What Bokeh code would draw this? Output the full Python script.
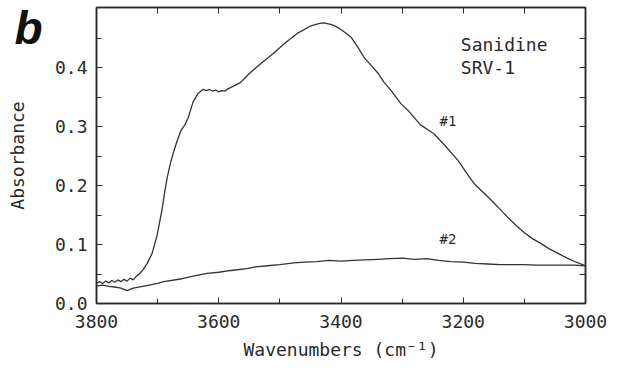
from bokeh.plotting import figure
from bokeh.models import (Range1d, LinearAxis, FixedTicker, Label,
                          PrintfTickFormatter, ColumnDataSource)
from bokeh.embed import file_html
from bokeh.resources import INLINE

# ---- data ----
wn1 = [3800, 3795, 3790, 3785, 3780, 3775, 3770, 3765, 3760, 3755, 3750,
       3745, 3740, 3735, 3730, 3724, 3717, 3709, 3701, 3693, 3688, 3684,
       3679, 3673, 3668, 3662, 3656, 3650, 3642, 3634, 3626, 3620, 3615,
       3610, 3605, 3600, 3595, 3590, 3585, 3575, 3564, 3550, 3530, 3510,
       3490, 3470, 3449, 3435, 3428, 3415, 3405, 3395, 3383, 3372, 3362,
       3350, 3339, 3330, 3318, 3302, 3290, 3270, 3248, 3230, 3208, 3195,
       3182, 3168, 3154, 3140, 3127, 3113, 3100, 3087, 3073, 3060, 3045,
       3030, 3015, 3000]
abs1 = [0.034, 0.037, 0.034, 0.038, 0.035, 0.039, 0.036, 0.040, 0.037, 0.041,
        0.038, 0.043, 0.040, 0.046, 0.050, 0.057, 0.068, 0.085, 0.115, 0.158,
        0.192, 0.215, 0.238, 0.260, 0.276, 0.293, 0.302, 0.315, 0.342, 0.356,
        0.363, 0.361, 0.363, 0.360, 0.362, 0.359, 0.361, 0.360, 0.364, 0.369,
        0.375, 0.390, 0.408, 0.425, 0.443, 0.459, 0.471, 0.475, 0.476, 0.473,
        0.468, 0.461, 0.451, 0.434, 0.417, 0.403, 0.390, 0.376, 0.361, 0.339,
        0.327, 0.303, 0.288, 0.268, 0.242, 0.222, 0.203, 0.189, 0.175, 0.160,
        0.146, 0.132, 0.120, 0.110, 0.102, 0.093, 0.085, 0.077, 0.070, 0.064]

wn2 = [3800, 3790, 3780, 3770, 3760, 3755, 3750, 3745, 3740, 3720, 3700,
       3690, 3660, 3640, 3619, 3600, 3580, 3554, 3540, 3520, 3500, 3477,
       3460, 3440, 3420, 3400, 3380, 3360, 3340, 3320, 3300, 3280, 3260,
       3240, 3220, 3200, 3180, 3160, 3140, 3120, 3100, 3080, 3060, 3040,
       3020, 3000]
abs2 = [0.030, 0.031, 0.029, 0.028, 0.026, 0.024, 0.022, 0.024, 0.026, 0.030,
        0.034, 0.037, 0.042, 0.047, 0.051, 0.053, 0.056, 0.059, 0.062, 0.064,
        0.066, 0.069, 0.070, 0.071, 0.073, 0.072, 0.073, 0.074, 0.075, 0.076,
        0.077, 0.075, 0.076, 0.073, 0.071, 0.070, 0.068, 0.067, 0.066, 0.066,
        0.066, 0.065, 0.065, 0.065, 0.065, 0.064]

x_ticks = [3800, 3600, 3400, 3200, 3000]
x_minor = [3700, 3500, 3300, 3100]
y_ticks = [0.0, 0.1, 0.2, 0.3, 0.4]
y_minor = [0.05, 0.15, 0.25, 0.35, 0.45]

title_text = "Sanidine"
sample_text = "SRV-1"
panel_text = "b"
x_label = "Wavenumbers (cm\u207b\u00b9)"
y_label = "Absorbance"

FONT = "DejaVu Sans Mono"
FS = "18px"
INK = "#2a2a2a"

p = figure(width=625, height=372, output_backend="svg", toolbar_location=None,
           x_range=Range1d(3800, 3000), y_range=Range1d(0, 0.502),
           min_border_left=96, min_border_right=40, min_border_top=7,
           min_border_bottom=69)
p.grid.visible = False
p.outline_line_color = INK
p.outline_line_width = 1.5
p.background_fill_color = "white"
p.border_fill_color = "white"

for ax in p.xaxis:
    ax.ticker = FixedTicker(ticks=x_ticks, minor_ticks=x_minor)
    ax.axis_label = x_label
    ax.major_label_standoff = 11
    ax.axis_label_standoff = 8
for ax in p.yaxis:
    ax.ticker = FixedTicker(ticks=y_ticks, minor_ticks=y_minor)
    ax.formatter = PrintfTickFormatter(format="%.1f")
    ax.axis_label = y_label
    ax.major_label_standoff = 9
    ax.axis_label_standoff = 24

def style(ax):
    ax.major_tick_in = 6
    ax.major_tick_out = 0
    ax.minor_tick_in = 5
    ax.minor_tick_out = 0
    ax.axis_line_color = INK
    ax.axis_line_width = 1.5
    ax.major_tick_line_color = INK
    ax.minor_tick_line_color = INK
    ax.major_label_text_font = FONT
    ax.major_label_text_font_size = FS
    ax.major_label_text_color = INK
    ax.axis_label_text_font = FONT
    ax.axis_label_text_font_size = FS
    ax.axis_label_text_font_style = "normal"
    ax.axis_label_text_color = INK

for ax in list(p.xaxis) + list(p.yaxis):
    style(ax)

# mirrored tick marks (no labels) on top and right
top = LinearAxis(ticker=FixedTicker(ticks=[], minor_ticks=x_ticks + x_minor))
right = LinearAxis(ticker=FixedTicker(ticks=[], minor_ticks=y_ticks + y_minor))
for ax in (top, right):
    style(ax)
    ax.minor_tick_in = 6
    ax.major_label_standoff = 0
p.add_layout(top, "above")
p.add_layout(right, "right")

# panel letter "b": an outer, line-less left axis carrying one label
b_pos = 0.472
baxis = LinearAxis(ticker=FixedTicker(ticks=[b_pos], minor_ticks=[]),
                   major_label_overrides={b_pos: panel_text})
baxis.axis_line_color = None
baxis.major_tick_line_color = None
baxis.minor_tick_line_color = None
baxis.major_tick_in = 0
baxis.major_tick_out = 0
baxis.major_label_standoff = -39
baxis.major_label_text_font = "Liberation Sans"
baxis.major_label_text_font_style = "bold italic"
baxis.major_label_text_font_size = "46px"
baxis.major_label_text_color = "#111111"
p.add_layout(baxis, "left")

s1 = ColumnDataSource(dict(x=wn1, y=abs1))
s2 = ColumnDataSource(dict(x=wn2, y=abs2))
p.line("x", "y", source=s1, line_color="#333333", line_width=1.3)
p.line("x", "y", source=s2, line_color="#333333", line_width=1.3)

p.add_layout(Label(x=3204, y=0.44, text=title_text, text_font=FONT,
                   text_font_size=FS, text_color=INK, text_baseline="middle"))
p.add_layout(Label(x=3204, y=0.40, text=sample_text, text_font=FONT,
                   text_font_size=FS, text_color=INK, text_baseline="middle"))
p.add_layout(Label(x=3225, y=0.31, text="#1", text_font=FONT,
                   text_font_size="14px", text_color=INK,
                   text_baseline="middle", text_align="center"))
p.add_layout(Label(x=3225, y=0.11, text="#2", text_font=FONT,
                   text_font_size="14px", text_color=INK,
                   text_baseline="middle", text_align="center"))

open("out.html", "w").write(file_html(p, INLINE))
